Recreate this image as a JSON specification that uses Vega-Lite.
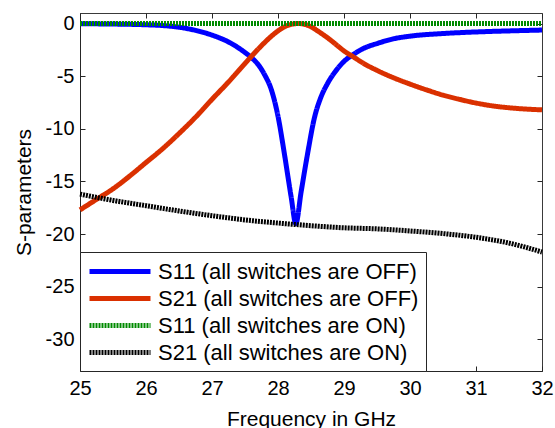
{
  "$schema": "https://vega.github.io/schema/vega-lite/v6.json",
  "width": 462,
  "height": 358,
  "autosize": {"type": "none"},
  "padding": {"left": 80, "top": 13, "right": 13, "bottom": 57},
  "background": "white",
  "config": {
    "font": "Liberation Sans",
    "view": {"stroke": "#3a3a3a", "strokeWidth": 1},
    "axis": {"grid": false, "labelFont": "Liberation Sans", "titleFont": "Liberation Sans", "labelColor": "black", "titleColor": "black", "titleFontWeight": "normal", "domainColor": "#262626", "tickColor": "#262626", "tickSize": -5},
    "legend": {"labelFont": "Liberation Sans"}
  },
  "data": {
    "values": [
      {"f": 25.0, "v": -0.02, "k": "S11 (all switches are OFF)"},
      {"f": 25.5, "v": -0.05, "k": "S11 (all switches are OFF)"},
      {"f": 26.0, "v": -0.12, "k": "S11 (all switches are OFF)"},
      {"f": 26.25, "v": -0.19, "k": "S11 (all switches are OFF)"},
      {"f": 26.5, "v": -0.35, "k": "S11 (all switches are OFF)"},
      {"f": 26.75, "v": -0.65, "k": "S11 (all switches are OFF)"},
      {"f": 27.0, "v": -1.1, "k": "S11 (all switches are OFF)"},
      {"f": 27.25, "v": -1.75, "k": "S11 (all switches are OFF)"},
      {"f": 27.5, "v": -2.75, "k": "S11 (all switches are OFF)"},
      {"f": 27.6, "v": -3.25, "k": "S11 (all switches are OFF)"},
      {"f": 27.7, "v": -3.9, "k": "S11 (all switches are OFF)"},
      {"f": 27.8, "v": -4.9, "k": "S11 (all switches are OFF)"},
      {"f": 27.9, "v": -6.3, "k": "S11 (all switches are OFF)"},
      {"f": 28.0, "v": -8.8, "k": "S11 (all switches are OFF)"},
      {"f": 28.1, "v": -12.5, "k": "S11 (all switches are OFF)"},
      {"f": 28.2, "v": -16.5, "k": "S11 (all switches are OFF)"},
      {"f": 28.27, "v": -19.0, "k": "S11 (all switches are OFF)"},
      {"f": 28.35, "v": -16.0, "k": "S11 (all switches are OFF)"},
      {"f": 28.45, "v": -12.3, "k": "S11 (all switches are OFF)"},
      {"f": 28.55, "v": -9.0, "k": "S11 (all switches are OFF)"},
      {"f": 28.65, "v": -7.0, "k": "S11 (all switches are OFF)"},
      {"f": 28.75, "v": -5.7, "k": "S11 (all switches are OFF)"},
      {"f": 28.9, "v": -4.3, "k": "S11 (all switches are OFF)"},
      {"f": 29.0, "v": -3.6, "k": "S11 (all switches are OFF)"},
      {"f": 29.15, "v": -2.9, "k": "S11 (all switches are OFF)"},
      {"f": 29.3, "v": -2.35, "k": "S11 (all switches are OFF)"},
      {"f": 29.5, "v": -1.9, "k": "S11 (all switches are OFF)"},
      {"f": 29.75, "v": -1.45, "k": "S11 (all switches are OFF)"},
      {"f": 30.0, "v": -1.2, "k": "S11 (all switches are OFF)"},
      {"f": 30.5, "v": -0.95, "k": "S11 (all switches are OFF)"},
      {"f": 31.0, "v": -0.8, "k": "S11 (all switches are OFF)"},
      {"f": 31.5, "v": -0.7, "k": "S11 (all switches are OFF)"},
      {"f": 32.0, "v": -0.62, "k": "S11 (all switches are OFF)"},

      {"f": 25.0, "v": -17.7, "k": "S21 (all switches are OFF)"},
      {"f": 25.25, "v": -16.7, "k": "S21 (all switches are OFF)"},
      {"f": 25.5, "v": -15.7, "k": "S21 (all switches are OFF)"},
      {"f": 25.75, "v": -14.5, "k": "S21 (all switches are OFF)"},
      {"f": 26.0, "v": -13.2, "k": "S21 (all switches are OFF)"},
      {"f": 26.25, "v": -11.9, "k": "S21 (all switches are OFF)"},
      {"f": 26.5, "v": -10.45, "k": "S21 (all switches are OFF)"},
      {"f": 26.75, "v": -8.9, "k": "S21 (all switches are OFF)"},
      {"f": 27.0, "v": -7.2, "k": "S21 (all switches are OFF)"},
      {"f": 27.25, "v": -5.55, "k": "S21 (all switches are OFF)"},
      {"f": 27.5, "v": -3.8, "k": "S21 (all switches are OFF)"},
      {"f": 27.6, "v": -3.1, "k": "S21 (all switches are OFF)"},
      {"f": 27.75, "v": -2.1, "k": "S21 (all switches are OFF)"},
      {"f": 27.9, "v": -1.2, "k": "S21 (all switches are OFF)"},
      {"f": 28.0, "v": -0.7, "k": "S21 (all switches are OFF)"},
      {"f": 28.1, "v": -0.3, "k": "S21 (all switches are OFF)"},
      {"f": 28.2, "v": -0.08, "k": "S21 (all switches are OFF)"},
      {"f": 28.3, "v": 0.0, "k": "S21 (all switches are OFF)"},
      {"f": 28.4, "v": -0.07, "k": "S21 (all switches are OFF)"},
      {"f": 28.5, "v": -0.3, "k": "S21 (all switches are OFF)"},
      {"f": 28.6, "v": -0.7, "k": "S21 (all switches are OFF)"},
      {"f": 28.75, "v": -1.35, "k": "S21 (all switches are OFF)"},
      {"f": 28.9, "v": -2.1, "k": "S21 (all switches are OFF)"},
      {"f": 29.0, "v": -2.6, "k": "S21 (all switches are OFF)"},
      {"f": 29.15, "v": -3.2, "k": "S21 (all switches are OFF)"},
      {"f": 29.3, "v": -3.8, "k": "S21 (all switches are OFF)"},
      {"f": 29.5, "v": -4.45, "k": "S21 (all switches are OFF)"},
      {"f": 29.75, "v": -5.15, "k": "S21 (all switches are OFF)"},
      {"f": 30.0, "v": -5.75, "k": "S21 (all switches are OFF)"},
      {"f": 30.25, "v": -6.3, "k": "S21 (all switches are OFF)"},
      {"f": 30.5, "v": -6.8, "k": "S21 (all switches are OFF)"},
      {"f": 30.75, "v": -7.2, "k": "S21 (all switches are OFF)"},
      {"f": 31.0, "v": -7.55, "k": "S21 (all switches are OFF)"},
      {"f": 31.25, "v": -7.82, "k": "S21 (all switches are OFF)"},
      {"f": 31.5, "v": -8.0, "k": "S21 (all switches are OFF)"},
      {"f": 31.75, "v": -8.12, "k": "S21 (all switches are OFF)"},
      {"f": 32.0, "v": -8.2, "k": "S21 (all switches are OFF)"},

      {"f": 25.0, "v": 0.0, "k": "S11 (all switches are ON)"},
      {"f": 26.0, "v": 0.0, "k": "S11 (all switches are ON)"},
      {"f": 27.0, "v": 0.0, "k": "S11 (all switches are ON)"},
      {"f": 28.0, "v": 0.0, "k": "S11 (all switches are ON)"},
      {"f": 29.0, "v": 0.0, "k": "S11 (all switches are ON)"},
      {"f": 30.0, "v": 0.0, "k": "S11 (all switches are ON)"},
      {"f": 31.0, "v": 0.0, "k": "S11 (all switches are ON)"},
      {"f": 32.0, "v": 0.0, "k": "S11 (all switches are ON)"},

      {"f": 25.0, "v": -16.2, "k": "S21 (all switches are ON)"},
      {"f": 25.5, "v": -16.8, "k": "S21 (all switches are ON)"},
      {"f": 26.0, "v": -17.3, "k": "S21 (all switches are ON)"},
      {"f": 26.5, "v": -17.8, "k": "S21 (all switches are ON)"},
      {"f": 27.0, "v": -18.25, "k": "S21 (all switches are ON)"},
      {"f": 27.5, "v": -18.65, "k": "S21 (all switches are ON)"},
      {"f": 28.0, "v": -18.95, "k": "S21 (all switches are ON)"},
      {"f": 28.5, "v": -19.2, "k": "S21 (all switches are ON)"},
      {"f": 29.0, "v": -19.4, "k": "S21 (all switches are ON)"},
      {"f": 29.5, "v": -19.5, "k": "S21 (all switches are ON)"},
      {"f": 30.0, "v": -19.7, "k": "S21 (all switches are ON)"},
      {"f": 30.5, "v": -19.95, "k": "S21 (all switches are ON)"},
      {"f": 31.0, "v": -20.3, "k": "S21 (all switches are ON)"},
      {"f": 31.5, "v": -20.85, "k": "S21 (all switches are ON)"},
      {"f": 32.0, "v": -21.7, "k": "S21 (all switches are ON)"}
    ]
  },
  "resolve": {"axis": {"x": "independent", "y": "independent"}},
  "layer": [
    {
      "encoding": {
        "x": {"field": "f", "type": "quantitative", "scale": {"domain": [25, 32], "nice": false, "zero": false},
          "axis": {"title": "Frequency in GHz", "values": [25, 26, 27, 28, 29, 30, 31, 32], "labelExpr": "'' + datum.value", "labelFontSize": 20, "titleFontSize": 21, "labelPadding": 12, "titlePadding": 10, "labelFlush": false}},
        "y": {"field": "v", "type": "quantitative", "scale": {"domain": [-33, 1], "nice": false, "zero": false},
          "axis": {"title": "S-parameters", "values": [-30, -25, -20, -15, -10, -5, 0], "labelExpr": "'' + datum.value", "labelFontSize": 20, "titleFontSize": 21, "labelPadding": 11, "titlePadding": 11}},
        "color": {"field": "k", "type": "nominal",
          "scale": {"domain": ["S11 (all switches are OFF)", "S21 (all switches are OFF)", "S11 (all switches are ON)", "S21 (all switches are ON)"],
                    "range": ["#0000FF", "#DA3000", "#008A00", "#000000"]},
          "legend": {"title": null, "orient": "bottom-left", "offset": 0, "padding": 7, "strokeColor": "#262626", "fillColor": "white",
                     "labelFontSize": 22, "symbolType": "M-1,0H5.1", "symbolSize": 400, "symbolStrokeWidth": 5, "rowPadding": 3, "labelOffset": 46, "labelLimit": 400, "cornerRadius": 0}},
        "strokeDash": {"field": "k", "type": "nominal",
          "scale": {"domain": ["S11 (all switches are OFF)", "S21 (all switches are OFF)", "S11 (all switches are ON)", "S21 (all switches are ON)"],
                    "range": [[1, 0], [1, 0], [2, 1], [2, 1]]},
          "legend": {"title": null}}
      },
      "layer": [
        {"transform": [{"filter": "datum.k == 'S11 (all switches are OFF)'"}], "mark": {"type": "line", "strokeWidth": 5, "interpolate": "monotone"}},
        {"transform": [{"filter": "datum.k == 'S21 (all switches are OFF)'"}], "mark": {"type": "line", "strokeWidth": 5, "interpolate": "monotone"}},
        {"transform": [{"filter": "datum.k == 'S11 (all switches are ON)'"}], "mark": {"type": "line", "strokeWidth": 5, "interpolate": "monotone"}},
        {"transform": [{"filter": "datum.k == 'S21 (all switches are ON)'"}], "mark": {"type": "line", "strokeWidth": 5, "interpolate": "monotone"}}
      ]
    },
    {
      "mark": {"type": "point", "opacity": 0},
      "encoding": {
        "x": {"field": "f", "type": "quantitative", "scale": {"domain": [25, 32], "nice": false, "zero": false},
          "axis": {"orient": "top", "title": null, "labels": false, "domain": false, "values": [25, 26, 27, 28, 29, 30, 31, 32]}},
        "y": {"field": "v", "type": "quantitative", "scale": {"domain": [-33, 1], "nice": false, "zero": false},
          "axis": {"orient": "right", "title": null, "labels": false, "domain": false, "values": [-30, -25, -20, -15, -10, -5, 0]}}
      }
    }
  ]
}
